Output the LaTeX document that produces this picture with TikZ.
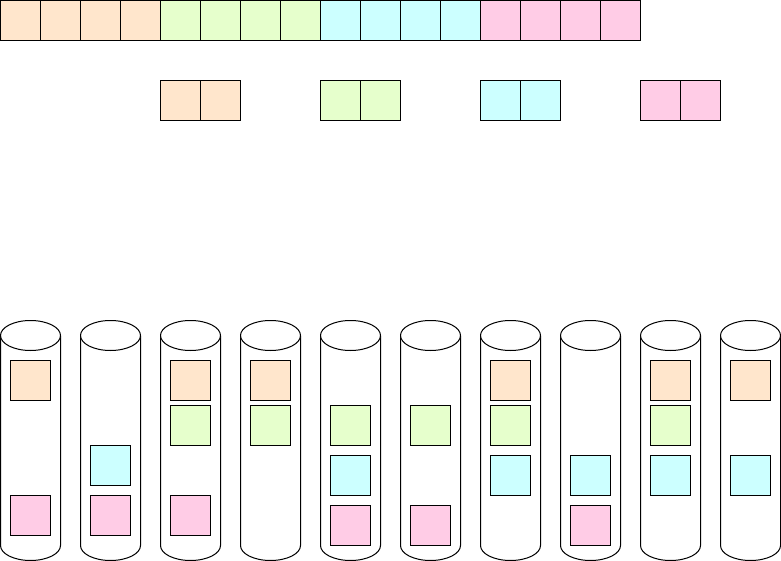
\documentclass[tikz,border=0pt]{standalone}
\definecolor{cor}{HTML}{FFE6CC}
\definecolor{cgr}{HTML}{E6FFCC}
\definecolor{ccy}{HTML}{CCFFFF}
\definecolor{cpk}{HTML}{FFCCE6}
\begin{document}
\begin{tikzpicture}[x=1pt,y=-1pt,line width=1pt,
  sq/.style={draw=black,minimum size=40pt,inner sep=0pt,outer sep=0pt,anchor=north west},
  cyl/.style={draw=black,fill=white,line join=round}]
\useasboundingbox (0,0) rectangle (781,561);
\begin{scope}[shift={(0.5,0.5)}]
% top row
\foreach \i/\c in {0/cor,1/cor,2/cor,3/cor,4/cgr,5/cgr,6/cgr,7/cgr,8/ccy,9/ccy,10/ccy,11/ccy,12/cpk,13/cpk,14/cpk,15/cpk}
  \node[sq,fill=\c] (t\i) at (\i*40,0) {};
% pairs
\foreach \x/\c [count=\k] in {160/cor,200/cor,320/cgr,360/cgr,480/ccy,520/ccy,640/cpk,680/cpk}
  \node[sq,fill=\c] (p\k) at (\x,80) {};
% cylinders
\foreach \x [count=\k] in {0,80,160,240,320,400,480,560,640,720}{
  \path[cyl] (\x,335) -- (\x,545) arc[start angle=180,end angle=0,x radius=30,y radius=15] -- (\x+60,335);
  \path[cyl] (\x+30,335) ellipse[x radius=30,y radius=15];
}
% blocks in cylinders
\foreach \x/\y/\c [count=\k] in {
  0/360/cor, 0/495/cpk,
  80/445/ccy, 80/495/cpk,
  160/360/cor, 160/405/cgr, 160/495/cpk,
  240/360/cor, 240/405/cgr,
  320/405/cgr, 320/455/ccy, 320/505/cpk,
  400/405/cgr, 400/505/cpk,
  480/360/cor, 480/405/cgr, 480/455/ccy,
  560/455/ccy, 560/505/cpk,
  640/360/cor, 640/405/cgr, 640/455/ccy,
  720/360/cor, 720/455/ccy}
  \node[sq,fill=\c] (b\k) at (\x+10,\y) {};
\end{scope}
\end{tikzpicture}
\end{document}
